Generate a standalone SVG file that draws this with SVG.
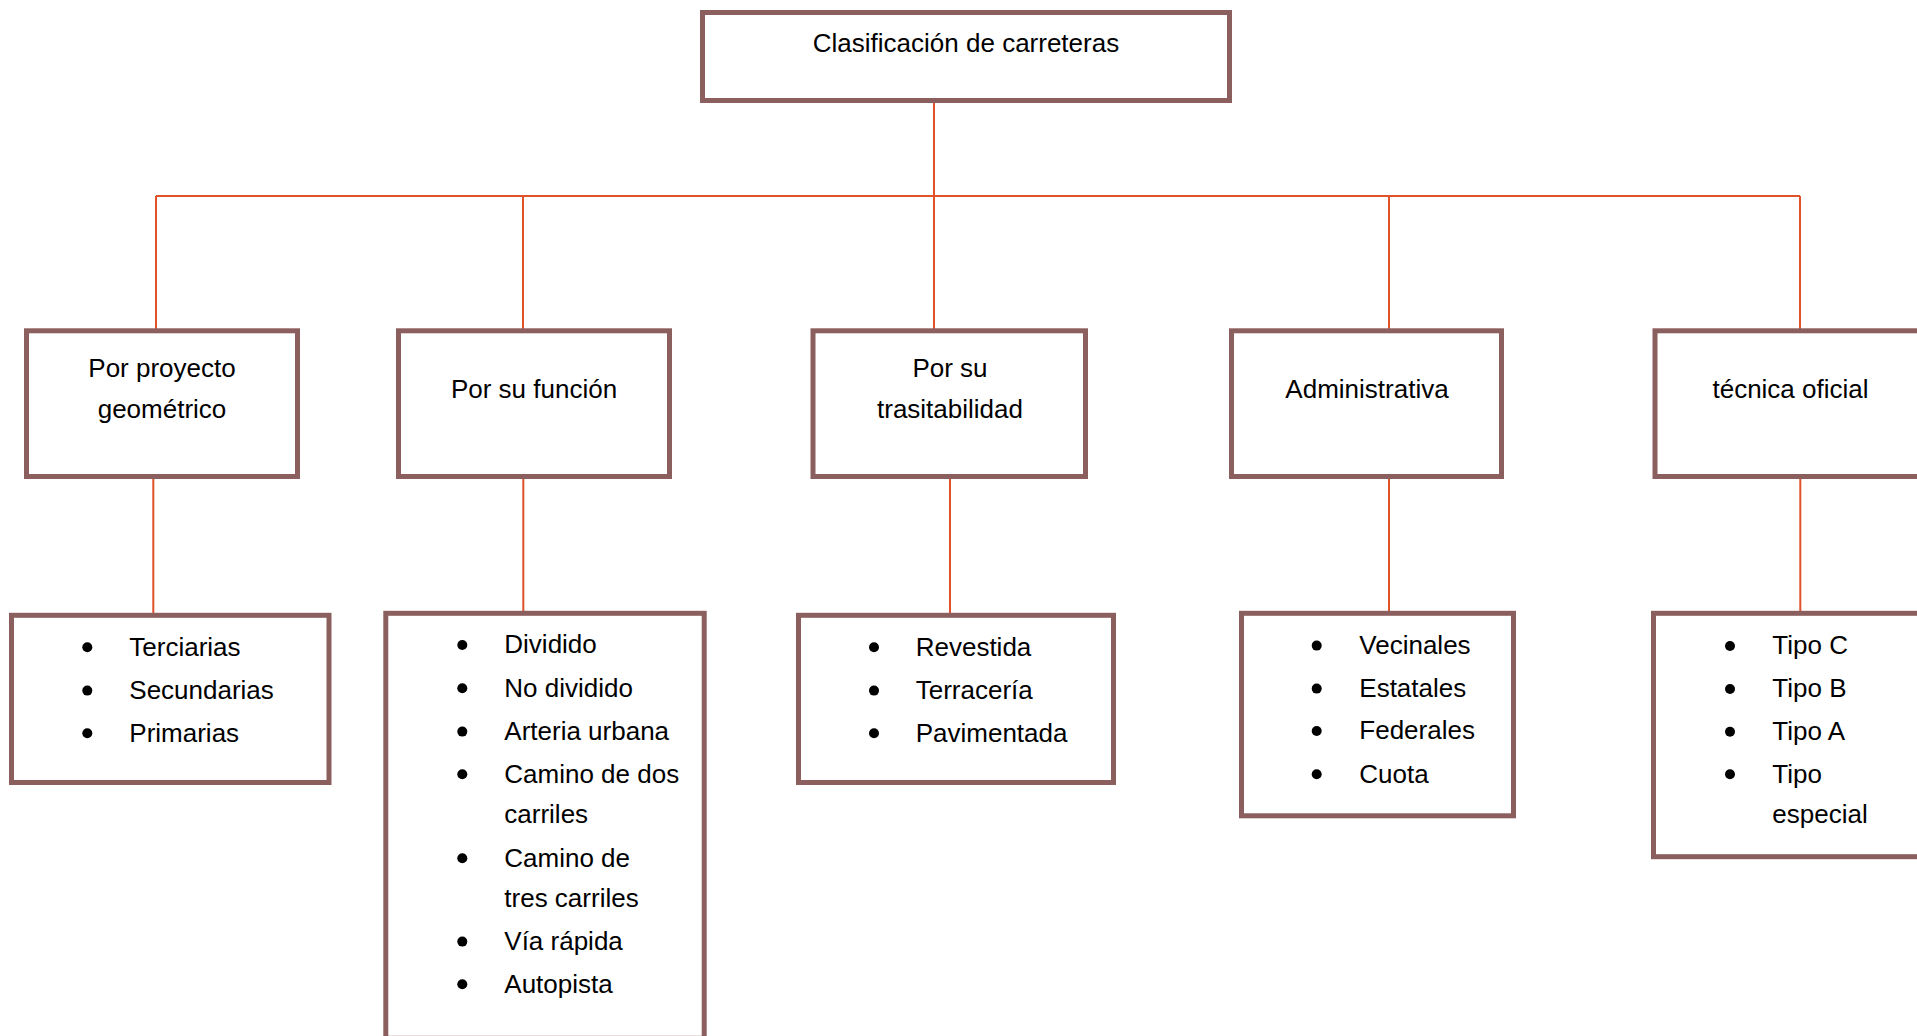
<svg xmlns="http://www.w3.org/2000/svg" width="1917" height="1036" viewBox="0 0 1917 1036">
<style>
.box{fill:#ffffff;stroke:#8B5F5E;stroke-width:5;stroke-linejoin:miter}
.conn{stroke:#E0522A;stroke-width:2;fill:none}
text{font-family:"Liberation Sans",Arial,sans-serif;font-size:26px;fill:#000000}
.c{text-anchor:middle}
.dot{fill:#000000}
</style>
<rect x="0" y="0" width="1917" height="1036" fill="#ffffff"/>
<g id="connectors">
<path class="conn" d="M934 102 V330 M156 196 H1800 M156 196 V330 M523 196 V329 M1389 196 V329 M1800 196 V329"/>
<path class="conn" d="M153.3 477 V614 M523.3 477 V612 M950 477 V614 M1389 477 V612 M1800.3 477 V612"/>
</g>
<g id="root">
<rect class="box" x="702.5" y="12.5" width="527" height="88"/>
<text class="c" x="966" y="52">Clasificación de carreteras</text>
</g>
<g id="n-geometrico">
<rect class="box" x="26.5" y="330.8" width="271" height="145.7"/>
<text class="c" x="162" y="377">Por proyecto</text>
<text class="c" x="162" y="418">geométrico</text>
</g>
<g id="n-funcion">
<rect class="box" x="398.5" y="330.8" width="271" height="145.7"/>
<text class="c" x="534" y="398">Por su función</text>
</g>
<g id="n-trasitabilidad">
<rect class="box" x="813" y="330.8" width="272.5" height="145.7"/>
<text class="c" x="950" y="377">Por su</text>
<text class="c" x="950" y="418">trasitabilidad</text>
</g>
<g id="n-administrativa">
<rect class="box" x="1231.5" y="330.8" width="270" height="145.7"/>
<text class="c" x="1367" y="398">Administrativa</text>
</g>
<g id="n-tecnica">
<rect class="box" x="1655" y="330.8" width="271" height="145.7"/>
<text class="c" x="1790.5" y="398">técnica oficial</text>
</g>
<g id="l-geometrico">
<rect class="box" x="11.5" y="615.3" width="317.5" height="167.2"/>
<circle class="dot" cx="87.3" cy="647.3" r="5"/>
<circle class="dot" cx="87.3" cy="690.6" r="5"/>
<circle class="dot" cx="87.3" cy="733.3" r="5"/>
<text x="129.3" y="655.7">Terciarias</text>
<text x="129.3" y="699">Secundarias</text>
<text x="129.3" y="741.7">Primarias</text>
</g>
<g id="l-funcion">
<rect class="box" x="385.8" y="613.3" width="318.4" height="425"/>
<circle class="dot" cx="462.3" cy="645" r="5"/>
<circle class="dot" cx="462.3" cy="688.3" r="5"/>
<circle class="dot" cx="462.3" cy="731.6" r="5"/>
<circle class="dot" cx="462.3" cy="774.3" r="5"/>
<circle class="dot" cx="462.3" cy="858.3" r="5"/>
<circle class="dot" cx="462.3" cy="941.6" r="5"/>
<circle class="dot" cx="462.3" cy="984.3" r="5"/>
<text x="504.3" y="653.3">Dividido</text>
<text x="504.3" y="696.7">No dividido</text>
<text x="504.3" y="740">Arteria urbana</text>
<text x="504.3" y="782.7">Camino de dos</text>
<text x="504.3" y="823.3">carriles</text>
<text x="504.3" y="866.7">Camino de</text>
<text x="504.3" y="907.3">tres carriles</text>
<text x="504.3" y="950">Vía rápida</text>
<text x="504.3" y="992.7">Autopista</text>
</g>
<g id="l-trasitabilidad">
<rect class="box" x="798.5" y="615.3" width="315" height="167.2"/>
<circle class="dot" cx="874" cy="647.3" r="5"/>
<circle class="dot" cx="874" cy="690.6" r="5"/>
<circle class="dot" cx="874" cy="733.3" r="5"/>
<text x="915.7" y="655.7">Revestida</text>
<text x="915.7" y="699">Terracería</text>
<text x="915.7" y="741.7">Pavimentada</text>
</g>
<g id="l-administrativa">
<rect class="box" x="1241.5" y="613.3" width="272" height="202.5"/>
<circle class="dot" cx="1316.7" cy="645.6" r="5"/>
<circle class="dot" cx="1316.7" cy="688.6" r="5"/>
<circle class="dot" cx="1316.7" cy="731" r="5"/>
<circle class="dot" cx="1316.7" cy="774.3" r="5"/>
<text x="1359.3" y="654">Vecinales</text>
<text x="1359.3" y="697">Estatales</text>
<text x="1359.3" y="739.3">Federales</text>
<text x="1359.3" y="782.7">Cuota</text>
</g>
<g id="l-tecnica">
<rect class="box" x="1653.5" y="613.3" width="300" height="243.4"/>
<circle class="dot" cx="1730" cy="646" r="5"/>
<circle class="dot" cx="1730" cy="689" r="5"/>
<circle class="dot" cx="1730" cy="731.7" r="5"/>
<circle class="dot" cx="1730" cy="774.3" r="5"/>
<text x="1772.3" y="654">Tipo C</text>
<text x="1772.3" y="697">Tipo B</text>
<text x="1772.3" y="740">Tipo A</text>
<text x="1772.3" y="782.7">Tipo</text>
<text x="1772.3" y="823.3">especial</text>
</g>
</svg>
